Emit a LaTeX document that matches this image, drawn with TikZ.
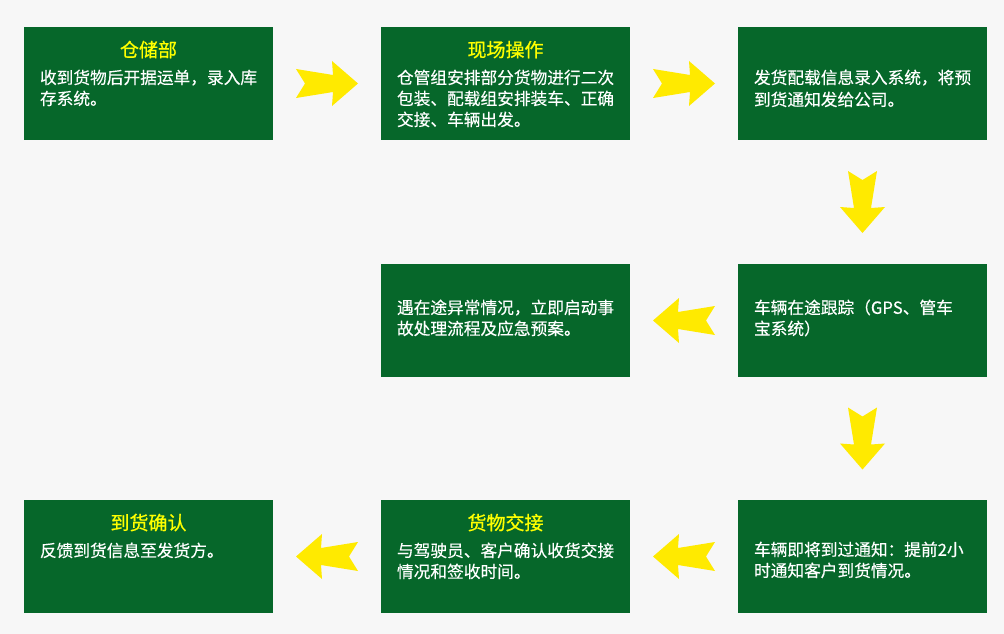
\documentclass[tikz,border=0pt]{standalone}
\usepackage{fontspec}
\newfontfamily\cjk[FakeBold=0.3]{Noto Sans CJK SC}
\newfontfamily\cjkt[FakeBold=0.8]{Noto Sans CJK SC}
\usetikzlibrary{calc}
\definecolor{boxgreen}{RGB}{6,103,42}
\definecolor{bgcol}{RGB}{247,247,247}
\definecolor{arrowyellow}{RGB}{255,234,0}
\definecolor{titleyellow}{RGB}{255,255,0}
\tikzset{
  box/.style={fill=boxgreen, draw=none, minimum width=249pt, minimum height=113pt, inner sep=0pt},
  ttl/.style={text=titleyellow, font=\cjkt\fontsize{19}{19}\selectfont, inner sep=0pt, anchor=base},
  txt/.style={text=white, font=\cjk\fontsize{16.7}{16.7}\selectfont, inner sep=0pt, anchor=base west},
  pics/yarrow/.style={code={
    \fill[arrowyellow] (-31,-14.5) -- (6,-8.5) -- (5,-22.5) -- (31,0) -- (5,22.5) -- (6,8.5) -- (-31,14.5) -- (-22,0) -- cycle;
  }}
}
\begin{document}
\begin{tikzpicture}[x=1pt,y=-1pt]
\fill[bgcol] (0,0) rectangle (1004,634);
\useasboundingbox (0,0) rectangle (1004,634);

% boxes
\node[box] (b1) at (148.5,83.5) {};
\node[box] (b2) at (505.5,83.5) {};
\node[box] (b3) at (862.5,83.5) {};
\node[box] (b4) at (862.5,320.5) {};
\node[box] (b5) at (505.5,320.5) {};
\node[box] (b6) at (862.5,556.5) {};
\node[box] (b7) at (505.5,556.5) {};
\node[box] (b8) at (148.5,556.5) {};

% box 1
\node[ttl] (t1) at ($(b1.north)+(0,30)$) {仓储部};
\node[txt] (b1a) at ($(b1.north west)+(16,57)$) {收到货物后开据运单，录入库};
\node[txt] (b1b) at ($(b1.north west)+(16,78)$) {存系统。};

% box 2
\node[ttl] (t2) at ($(b2.north)+(0,30)$) {现场操作};
\node[txt] (b2a) at ($(b2.north west)+(16,57)$) {仓管组安排部分货物进行二次};
\node[txt] (b2b) at ($(b2.north west)+(16,78)$) {包装、配载组安排装车、正确};
\node[txt] (b2c) at ($(b2.north west)+(16,99)$) {交接、车辆出发。};

% box 3
\node[txt] (b3a) at ($(b3.north west)+(16,57)$) {发货配载信息录入系统，将预};
\node[txt] (b3b) at ($(b3.north west)+(16,79)$) {到货通知发给公司。};

% box 4
\node[txt] (b4a) at ($(b4.north west)+(16,50)$) {车辆在途跟踪（GPS、管车};
\node[txt] (b4b) at ($(b4.north west)+(16,71)$) {宝系统）};

% box 5
\node[txt] (b5a) at ($(b5.north west)+(16,50)$) {遇在途异常情况，立即启动事};
\node[txt] (b5b) at ($(b5.north west)+(16,71)$) {故处理流程及应急预案。};

% box 6
\node[txt] (b6a) at ($(b6.north west)+(16,56)$) {车辆即将到过通知：提前2小};
\node[txt] (b6b) at ($(b6.north west)+(16,77)$) {时通知客户到货情况。};

% box 7
\node[ttl] (t7) at ($(b7.north)+(0,30)$) {货物交接};
\node[txt] (b7a) at ($(b7.north west)+(16,57)$) {与驾驶员、客户确认收货交接};
\node[txt] (b7b) at ($(b7.north west)+(16,78)$) {情况和签收时间。};

% box 8
\node[ttl] (t8) at ($(b8.north)+(0,30)$) {到货确认};
\node[txt] (b8a) at ($(b8.north west)+(16,57)$) {反馈到货信息至发货方。};

% arrows
\pic at ($(b1.east)!0.5!(b2.west)$) {yarrow};
\pic at ($(b2.east)!0.5!(b3.west)$) {yarrow};
\pic[rotate=-90] at ($(b3.south)!0.5!(b4.north)$) {yarrow};
\pic[rotate=180] at ($(b4.west)!0.5!(b5.east)$) {yarrow};
\pic[rotate=-90] at ($(b4.south)!0.5!(b6.north)$) {yarrow};
\pic[rotate=180] at ($(b6.west)!0.5!(b7.east)$) {yarrow};
\pic[rotate=180] at ($(b7.west)!0.5!(b8.east)$) {yarrow};
\end{tikzpicture}
\end{document}
